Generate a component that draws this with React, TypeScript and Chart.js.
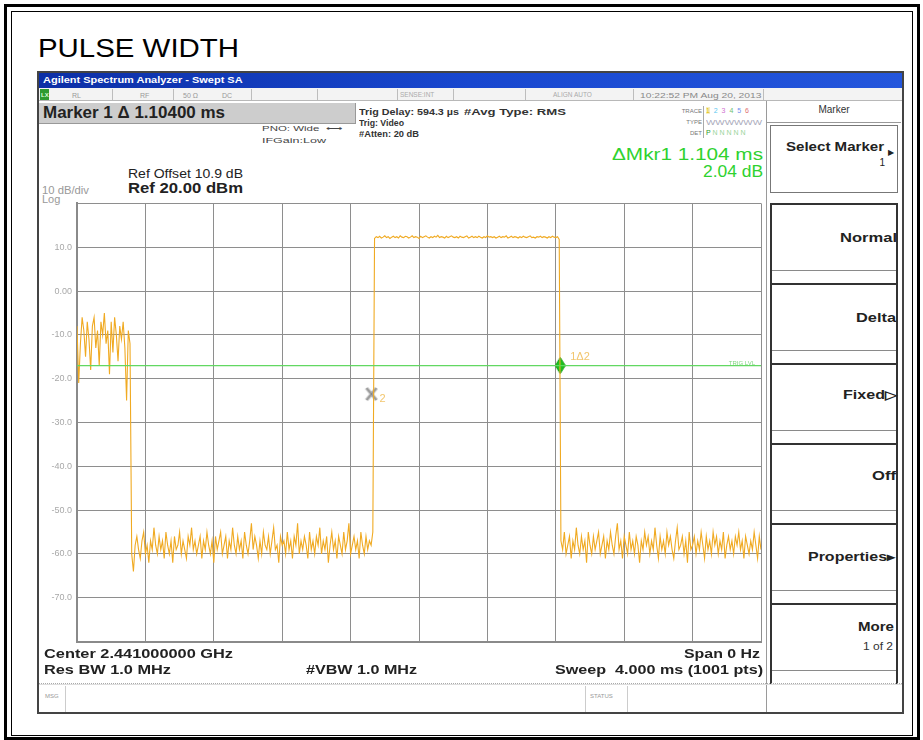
import React, { useEffect, useRef } from "react";
import { Chart, registerables } from "chart.js";

Chart.register(...registerables);

// ---------- data ----------
const sweepTimeMs = 4;
const refLevelDbm = 20;
const bottomLevelDbm = -80;
const dbPerDiv = 10;
const timeDivMs = 0.4;

// trace levels (dBm), sampled uniformly (0.01 ms) across the 4 ms sweep
const burstLevels = [
  -8, -21, -12, -6, -9, -15, -7, -11, -18, -8,
  -6, -13, -9, -17, -7, -10, -5, -12, -9, -19,
  -7, -14, -6, -10, -16, -8, -11, -7, -13, -25,
  -9, -12,
];
const lowLevelsBefore = [
  -60, -64, -58, -56, -59, -61, -57, -55, -60, -58,
  -62, -57, -59, -54, -58, -60, -56, -59, -57, -61,
  -55, -58, -60, -57, -62, -56, -59, -58, -55, -60,
  -57, -59, -61, -56, -58, -54, -59, -57, -60, -58,
  -56, -61, -57, -59, -55, -58, -60, -57, -62, -56,
  -59, -57, -55, -60, -58, -56, -61, -57, -59, -54,
  -58, -60, -56, -59, -57, -61, -55, -58, -60, -57,
  -53, -59, -56, -58, -61, -57, -60, -55, -58, -59,
  -56, -60, -57, -54, -59, -58, -62, -56, -58, -57,
  -60, -55, -59, -57, -61, -56, -58, -53, -60, -57,
  -59, -56, -58, -61, -55, -59, -57, -60, -56, -58,
  -54, -60, -57, -59, -56, -62, -58, -55, -59, -57,
  -61, -56, -58, -60, -55, -59, -57, -53, -60, -58,
  -56, -59, -57, -61, -55, -58, -60, -56, -59, -57,
  -58, -55,
];
const pulseLevels = [
  12.0, 12.4, 12.2, 12.5, 12.1, 12.3, 12.6, 12.2, 12.4, 12.0,
  12.3, 12.5, 12.2, 12.4, 12.1, 12.6, 12.3, 12.2, 12.5, 12.4,
  12.1, 12.3, 12.6, 12.2, 12.4, 12.3, 12.0, 12.5, 12.2, 12.4,
  12.6, 12.3, 12.1, 12.4, 12.2, 12.5, 12.3, 12.7, 12.2, 12.4,
  12.3, 12.1, 12.5, 12.2, 12.4, 12.6, 12.3, 12.2, 12.4, 12.1,
  12.5, 12.3, 12.2, 12.4, 12.6, 12.1, 12.3, 12.5, 12.2, 12.4,
  12.2, 12.5, 12.3, 12.1, 12.4, 12.2, 12.6, 12.3, 12.4, 12.2,
  12.4, 12.1, 12.3, 12.5, 12.2, 12.4, 12.3, 12.6, 12.1, 12.3,
  12.5, 12.2, 12.4, 12.3, 12.1, 12.4, 12.2, 12.5, 12.3, 12.2,
  12.4, 12.6, 12.2, 12.3, 12.1, 12.4, 12.3, 12.5, 12.2, 12.4,
  12.3, 12.1, 12.4, 12.2, 12.5, 12.3, 12.2, 12.4, 11.8,
];
const lowLevelsAfter = [
  -57, -59, -55, -60, -58, -56, -61, -57, -59, -54,
  -58, -60, -56, -59, -57, -62, -55, -58, -60, -56,
  -59, -57, -55, -60, -58, -56, -61, -57, -59, -55,
  -58, -60, -56, -53, -59, -57, -61, -56, -58, -60,
  -55, -59, -57, -60, -56, -58, -62, -57, -59, -55,
  -58, -56, -60, -57, -59, -54, -58, -61, -56, -59,
  -57, -60, -55, -58, -56, -59, -61, -57, -54, -59,
  -58, -56, -60, -57, -62, -55, -59, -58, -56, -60,
  -57, -59, -55, -58, -61, -56, -59, -57, -60, -55,
  -58, -56, -60, -57, -59, -55, -61, -58, -56, -59,
  -57, -60, -56, -58, -55, -59, -57, -61, -56, -58,
  -60, -57, -59, -55, -58, -61, -56, -59,
];
const displayLineDbm = -17;
const marker1TimeMs = 2.826;
const marker1Dbm = -17;
const marker2TimeMs = 1.722;
const marker2Dbm = -23.5;
const hiddenYTicks = [20, -80];

const FF = '"Liberation Sans", Arial, Helvetica, sans-serif';

let measureCtx: CanvasRenderingContext2D | null = null;
function measure(font: string, text: string) {
  if (!measureCtx) measureCtx = document.createElement("canvas").getContext("2d");
  measureCtx!.font = font;
  return measureCtx!.measureText(text).width;
}

type TP = {
  x: number; y: number; s: number; t: string; b?: boolean; c?: string;
  w?: number; a?: "left" | "right" | "center";
};
function T({ x, y, s, t, b, c, w, a }: TP) {
  const font = `${b ? "bold " : ""}${s}px ${FF}`;
  const nat = measure(font, t) || 1;
  const width = w ?? nat;
  const sx = width / nat;
  const left = a === "right" ? x - width : a === "center" ? x - width / 2 : x;
  return (
    <div
      style={{
        position: "absolute", left, top: y - s / 2, font, color: c ?? "#111",
        whiteSpace: "pre", lineHeight: 1, transform: `scaleX(${sx})`, transformOrigin: "left top",
      }}
    >
      {t}
    </div>
  );
}

function Box(p: { l: number; t: number; w: number; h: number; st?: React.CSSProperties }) {
  return <div style={{ position: "absolute", left: p.l, top: p.t, width: p.w, height: p.h, boxSizing: "border-box", ...p.st }} />;
}

function makeDiamond() {
  const c = document.createElement("canvas");
  c.width = 11; c.height = 17;
  const g = c.getContext("2d")!;
  g.beginPath();
  g.moveTo(5.5, 0.5); g.lineTo(10.5, 8.5); g.lineTo(5.5, 16.5); g.lineTo(0.5, 8.5); g.closePath();
  g.fillStyle = "#1ec21e"; g.fill();
  g.strokeStyle = "#119a11"; g.lineWidth = 1; g.stroke();
  return c;
}
function makeCross() {
  const c = document.createElement("canvas");
  c.width = 14; c.height = 16;
  const g = c.getContext("2d")!;
  g.strokeStyle = "#b4b4b4"; g.lineWidth = 3.5;
  g.beginPath(); g.moveTo(2, 2); g.lineTo(12, 14); g.moveTo(12, 2); g.lineTo(2, 14); g.stroke();
  g.strokeStyle = "#848484"; g.lineWidth = 1;
  g.beginPath(); g.moveTo(2, 2); g.lineTo(12, 14); g.moveTo(12, 2); g.lineTo(2, 14); g.stroke();
  return c;
}

const markerLabelPlugin = {
  id: "markerLabels",
  afterDatasetsDraw(chart: any) {
    const { ctx, chartArea } = chart;
    const x = chart.scales.x, y = chart.scales.y;
    ctx.save();
    ctx.textBaseline = "middle";
    ctx.font = `11px ${FF}`;
    ctx.fillStyle = "#f2c66e";
    ctx.fillText("1\u03942", x.getPixelForValue(marker1TimeMs) + 10, y.getPixelForValue(marker1Dbm) - 9);
    ctx.fillText("2", x.getPixelForValue(marker2TimeMs) + 8, y.getPixelForValue(marker2Dbm) + 5);
    ctx.font = `6px ${FF}`;
    ctx.fillStyle = "#7fd57f";
    ctx.textAlign = "right";
    ctx.fillText("TRIG LVL", chartArea.right - 6, y.getPixelForValue(displayLineDbm) - 2);
    ctx.restore();
  },
};

function PlotChart() {
  const ref = useRef<HTMLCanvasElement>(null);
  useEffect(() => {
    const levels = [...burstLevels, ...lowLevelsBefore, ...pulseLevels, ...lowLevelsAfter];
    const n = levels.length;
    const tracePts = levels.map((v, i) => ({ x: (i * sweepTimeMs) / (n - 1), y: v }));
    const chart = new Chart(ref.current!, {
      type: "line",
      data: {
        datasets: [
          {
            label: "DL", data: [{ x: 0, y: displayLineDbm }, { x: sweepTimeMs, y: displayLineDbm }],
            borderColor: "#62d862", borderWidth: 1.2, pointRadius: 0,
          },
          {
            label: "trace", data: tracePts, borderColor: "#f0aa22", borderWidth: 1.1,
            pointRadius: 0, tension: 0,
          },
          {
            label: "m2", data: [{ x: marker2TimeMs, y: marker2Dbm }], showLine: false,
            pointStyle: makeCross() as any, pointRadius: 6,
          },
          {
            label: "m1", data: [{ x: marker1TimeMs, y: marker1Dbm }], showLine: false,
            pointStyle: makeDiamond() as any, pointRadius: 6,
          },
        ],
      },
      options: {
        animation: false,
        responsive: false,
        events: [],
        layout: { padding: { left: 0, right: 6, top: 0, bottom: 0 } },
        plugins: { legend: { display: false }, tooltip: { enabled: false } },
        scales: {
          x: {
            type: "linear", min: 0, max: sweepTimeMs,
            ticks: { display: false, stepSize: timeDivMs },
            grid: { color: "#8e8e8e", lineWidth: 1, drawTicks: false },
            border: { display: true, color: "#8a8a8a", width: 2 },
            afterFit(s: any) { s.height = 0; },
          },
          y: {
            type: "linear", min: bottomLevelDbm, max: refLevelDbm,
            ticks: {
              stepSize: dbPerDiv, padding: 5, color: "#a8a8a8",
              font: { size: 9, family: FF },
              callback: (v: any) => (hiddenYTicks.includes(v) ? "" : v === 0 ? "0.00" : Number(v).toFixed(1)),
            },
            grid: { color: "#8e8e8e", lineWidth: 1, drawTicks: false },
            border: { display: true, color: "#8a8a8a", width: 2 },
            afterFit(s: any) { s.width = 39; },
          },
        },
      },
      plugins: [markerLabelPlugin],
    } as any);
    return () => chart.destroy();
  }, []);
  return (
    <canvas ref={ref} width={730} height={459}
      style={{ position: "absolute", left: 38, top: 193, width: 730, height: 459, display: "block" }} />
  );
}

export default function App() {
  const btnTops = [203, 283, 363, 443, 523, 603];
  const statusDividers = [112, 173, 251, 317, 397, 453, 525, 633, 763];
  return (
    <div style={{ position: "absolute", left: 0, top: 0, width: 923, height: 740, background: "#fff", overflow: "hidden", fontFamily: FF }}>
      {/* outer frames */}
      <Box l={4} t={4} w={916} h={736} st={{ border: "3px solid #000" }} />
      <Box l={11} t={11} w={902} h={725} st={{ border: "1.5px solid #000" }} />
      <T x={38} y={48} s={25} t="PULSE WIDTH" w={201} c="#000" />

      {/* screenshot */}
      <Box l={37} t={71} w={867} h={643} st={{ border: "2px solid #444", background: "#fff" }} />
      <Box l={39} t={73} w={863} h={15} st={{ background: "linear-gradient(to right, #0c2fa6, #1847cf 50%, #2456dc)" }} />
      <T x={43} y={80} s={9} b t="Agilent Spectrum Analyzer - Swept SA" w={200} c="#fff" />
      <Box l={39} t={88} w={863} h={13} st={{ background: "#f3f3f3", borderBottom: "1px solid #b8b8b8" }} />
      {statusDividers.map((d) => (
        <Box key={d} l={d} t={89} w={1} h={11} st={{ background: "#bdbdbd" }} />
      ))}
      <Box l={40} t={89} w={9} h={11} st={{ background: "#2f9a2f" }} />
      <T x={41} y={95} s={6} b t="LX" c="#dfd" />
      <T x={72} y={95} s={7} t="RL" c="#999" />
      <T x={140} y={95} s={7} t="RF" c="#999" />
      <T x={183} y={95} s={7} t="50 Ω" c="#999" />
      <T x={222} y={95} s={7} t="DC" c="#999" />
      <T x={400} y={95} s={6.5} t="SENSE:INT" c="#aaa" />
      <T x={553} y={95} s={6.5} t="ALIGN AUTO" c="#aaa" />
      <T x={640} y={95} s={7} t="10:22:52 PM Aug 20, 2013" w={122} c="#888" />

      {/* marker readout bar */}
      <Box l={39} t={103} w={317} h={21} st={{ background: "#cdcdcd", borderRight: "1px solid #999", borderBottom: "1px solid #999" }} />
      <T x={43} y={113} s={16} b t="Marker 1 Δ 1.10400 ms" w={182} c="#222" />
      <T x={262} y={128} s={7} t="PNO: Wide  ⟷" w={80} c="#444" />
      <T x={262} y={140} s={7} t="IFGain:Low" w={64} c="#444" />
      <T x={359} y={112} s={8.5} b t="Trig Delay: 594.3 µs" w={100} c="#333" />
      <T x={359} y={123} s={8.5} b t="Trig: Video" w={45} c="#333" />
      <T x={359} y={134} s={8.5} b t="#Atten: 20 dB" w={60} c="#333" />
      <T x={464} y={112} s={8.5} b t="#Avg Type: RMS" w={102} c="#333" />
      <T x={702} y={111} s={6} t="TRACE" a="right" c="#777" />
      <T x={702} y={122} s={6} t="TYPE" a="right" c="#777" />
      <T x={702} y={133} s={6} t="DET" a="right" c="#777" />
      <Box l={703} t={106} w={1} h={32} st={{ background: "#aaa" }} />
      <div style={{ position: "absolute", left: 706, top: 107, font: `7px ${FF}`, whiteSpace: "pre", lineHeight: 1 }}>
        <span style={{ color: "#e3b800", background: "#f6f0c0" }}>1</span>
        <span style={{ color: "#5bc8f0" }}>  2  </span>
        <span style={{ color: "#d070d0" }}>3  </span>
        <span style={{ color: "#70c070" }}>4  </span>
        <span style={{ color: "#7090f0" }}>5  </span>
        <span style={{ color: "#e07070" }}>6</span>
      </div>
      <T x={706} y={122} s={7} t="WWWWWW" w={56} c="#aab" />
      <div style={{ position: "absolute", left: 706, top: 129, font: `7px ${FF}`, whiteSpace: "pre", lineHeight: 1 }}>
        <span style={{ color: "#2a9a2a" }}>P </span>
        <span style={{ color: "#9ad49a" }}>N N N N N</span>
      </div>
      <T x={763} y={155} s={16} t="ΔMkr1 1.104 ms" a="right" w={151} c="#2fd22f" />
      <T x={763} y={172} s={16} t="2.04 dB" a="right" w={60} c="#2fd22f" />
      <T x={128} y={173} s={13} t="Ref Offset 10.9 dB" w={115} c="#222" />
      <T x={128} y={187} s={15} b t="Ref 20.00 dBm" w={115} c="#222" />
      <T x={42} y={190} s={11} t="10 dB/div" w={47} c="#999" />
      <T x={42} y={199} s={11} t="Log" c="#999" />

      {/* right softkey panel */}
      <Box l={766} t={101} w={1} h={611} st={{ background: "#9a9a9a" }} />
      <T x={834} y={110} s={10} t="Marker" a="center" c="#333" />
      <Box l={767} t={122} w={134} h={1} st={{ background: "#999" }} />
      <Box l={770} t={125} w={128} h={68} st={{ border: "1px solid #777" }} />
      <T x={884} y={147} s={12} b t="Select Marker" a="right" w={98} c="#222" />
      <T x={888} y={153} s={8} t="▶" c="#222" />
      <T x={885} y={163} s={10} t="1" a="right" c="#222" />
      {btnTops.map((t) => (
        <React.Fragment key={t}>
          <Box l={770} t={t} w={128} h={t === 603 ? 82 : 80}
            st={{ borderTop: "2px solid #333", borderLeft: "2px solid #333", borderRight: "2px solid #333", borderBottom: t === 603 ? "1px solid #999" : undefined }} />
          <Box l={772} t={t + 67} w={124} h={1} st={{ background: "#8a8a8a" }} />
        </React.Fragment>
      ))}
      <T x={897} y={238} s={12} b t="Normal" a="right" w={57} c="#222" />
      <T x={896} y={318} s={12} b t="Delta" a="right" w={40} c="#222" />
      <T x={897} y={395} s={12} b t="Fixed▷" a="right" w={54} c="#222" />
      <T x={896} y={476} s={12} b t="Off" a="right" w={24} c="#222" />
      <T x={895} y={557} s={12} b t="Properties▸" a="right" w={87} c="#222" />
      <T x={894} y={627} s={12} b t="More" a="right" w={36} c="#222" />
      <T x={893} y={647} s={10} t="1 of 2" a="right" w={30} c="#333" />

      {/* plot */}
      <PlotChart />

      {/* bottom annotations */}
      <T x={44} y={653} s={13} b t="Center 2.441000000 GHz" w={189} c="#222" />
      <T x={760} y={653} s={13} b t="Span 0 Hz" a="right" w={76} c="#222" />
      <T x={44} y={669} s={13} b t="Res BW 1.0 MHz" w={127} c="#222" />
      <T x={306} y={669} s={13} b t="#VBW 1.0 MHz" w={111} c="#222" />
      <T x={763} y={669} s={13} b t="Sweep  4.000 ms (1001 pts)" a="right" w={208} c="#222" />
      <Box l={39} t={683} w={863} h={2} st={{ borderTop: "1px dotted #aaa", borderBottom: "1px solid #ddd" }} />
      <Box l={65} t={686} w={1} h={26} st={{ background: "#ccc" }} />
      <Box l={585} t={686} w={1} h={26} st={{ background: "#ccc" }} />
      <Box l={627} t={686} w={1} h={26} st={{ background: "#ccc" }} />
      <T x={45} y={696} s={6} t="MSG" c="#999" />
      <T x={590} y={696} s={6} t="STATUS" c="#999" />
    </div>
  );
}
